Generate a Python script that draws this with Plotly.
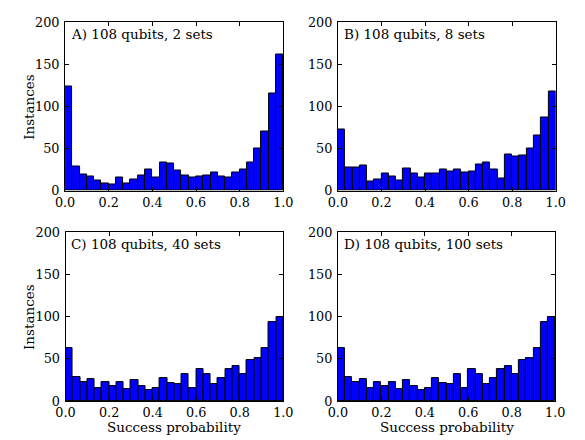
import numpy as np
import plotly.graph_objects as go

bin_edges = np.linspace(0.0, 1.0, 31)
bin_centers = (bin_edges[:-1] + bin_edges[1:]) / 2
bin_width = bin_edges[1] - bin_edges[0]

counts_a = [124, 29, 19, 17, 12, 8, 7, 16, 9, 13, 18, 25, 16, 33, 32,
            24, 18, 16, 17, 18, 21, 17, 15, 22, 25, 33, 50, 70, 115, 162]
counts_b = [73, 28, 28, 30, 11, 13, 20, 17, 12, 26, 20, 16, 20, 20, 25,
            23, 25, 22, 23, 31, 33, 25, 14, 43, 40, 42, 50, 65, 87, 118]
counts_c = [63, 29, 22, 26, 15, 22, 18, 22, 14, 25, 18, 13, 15, 27, 21,
            20, 32, 16, 38, 32, 20, 27, 38, 41, 32, 48, 51, 63, 94, 100]
counts_d = [63, 29, 22, 26, 15, 22, 18, 22, 14, 25, 18, 13, 15, 27, 21,
            20, 32, 16, 38, 32, 20, 27, 38, 41, 32, 48, 51, 63, 94, 100]

panel_labels = ["A) 108 qubits, 2 sets", "B) 108 qubits, 8 sets",
                "C) 108 qubits, 40 sets", "D) 108 qubits, 100 sets"]
x_ticks = [0.0, 0.2, 0.4, 0.6, 0.8, 1.0]
x_ticktext = ["0.0", "0.2", "0.4", "0.6", "0.8", "1.0"]
y_ticks = [0, 50, 100, 150, 200]
x_title = "Success probability"
y_title = "Instances"

FONT = "DejaVu Serif"
FS = 13.5
TFS = 12.8
W, H = 585, 440

# pixel boxes for panels (left, right, top, bottom)
boxes = [(57, 283, 15, 189), (339.5, 565, 15, 189),
         (57.5, 283, 232, 407), (339.5, 564.5, 232, 407)]

fig = go.Figure()
all_counts = [counts_a, counts_b, counts_c, counts_d]
for i, (counts, box) in enumerate(zip(all_counts, boxes)):
    n = i + 1
    xa = "x" if n == 1 else f"x{n}"
    ya = "y" if n == 1 else f"y{n}"
    fig.add_trace(go.Bar(
        x=bin_centers, y=counts, width=bin_width,
        marker=dict(color="#0000ff", line=dict(color="black", width=1)),
        xaxis=xa, yaxis=ya, showlegend=False, hoverinfo="skip"))
    l, r, t, b = box
    xdom = [l / W, r / W]
    ydom = [1 - b / H, 1 - t / H]
    common = dict(showline=True, linecolor="black", linewidth=1, mirror="allticks",
                  ticks="inside", ticklen=4, tickwidth=1, tickcolor="black",
                  showgrid=False, zeroline=False,
                  tickfont=dict(family=FONT, size=TFS, color="black"))
    xkey = "xaxis" if n == 1 else f"xaxis{n}"
    ykey = "yaxis" if n == 1 else f"yaxis{n}"
    fig.update_layout(**{
        xkey: dict(domain=xdom, range=[0, 1], anchor=ya, tickvals=x_ticks,
                   ticktext=x_ticktext, ticklabelstandoff=0, **common),
        ykey: dict(domain=ydom, range=[0, 200], anchor=xa, tickvals=y_ticks,
                   ticklabelstandoff=2, **common),
    })
    fig.add_annotation(x=(l + 4) / W, y=1 - (t + 2) / H, xref="paper", yref="paper",
                       text=panel_labels[i], showarrow=False, xanchor="left",
                       yanchor="top", font=dict(family=FONT, size=FS, color="black"))

# axis titles
for (l, r, t, b) in [boxes[0], boxes[2]]:
    fig.add_annotation(x=19 / W, y=1 - ((t + b) / 2) / H, xref="paper", yref="paper",
                       text=y_title, textangle=-90, showarrow=False,
                       xanchor="center", yanchor="middle",
                       font=dict(family=FONT, size=FS, color="black"))
for (l, r, t, b) in [boxes[2], boxes[3]]:
    fig.add_annotation(x=((l + r) / 2) / W, y=1 - 433.5 / H, xref="paper", yref="paper",
                       text=x_title, showarrow=False, borderpad=0,
                       xanchor="center", yanchor="middle",
                       font=dict(family=FONT, size=FS, color="black"))

fig.update_layout(width=W, height=H, margin=dict(l=0, r=0, t=0, b=0),
                  plot_bgcolor="white", paper_bgcolor="white", bargap=0)
fig.write_html("out.html")
